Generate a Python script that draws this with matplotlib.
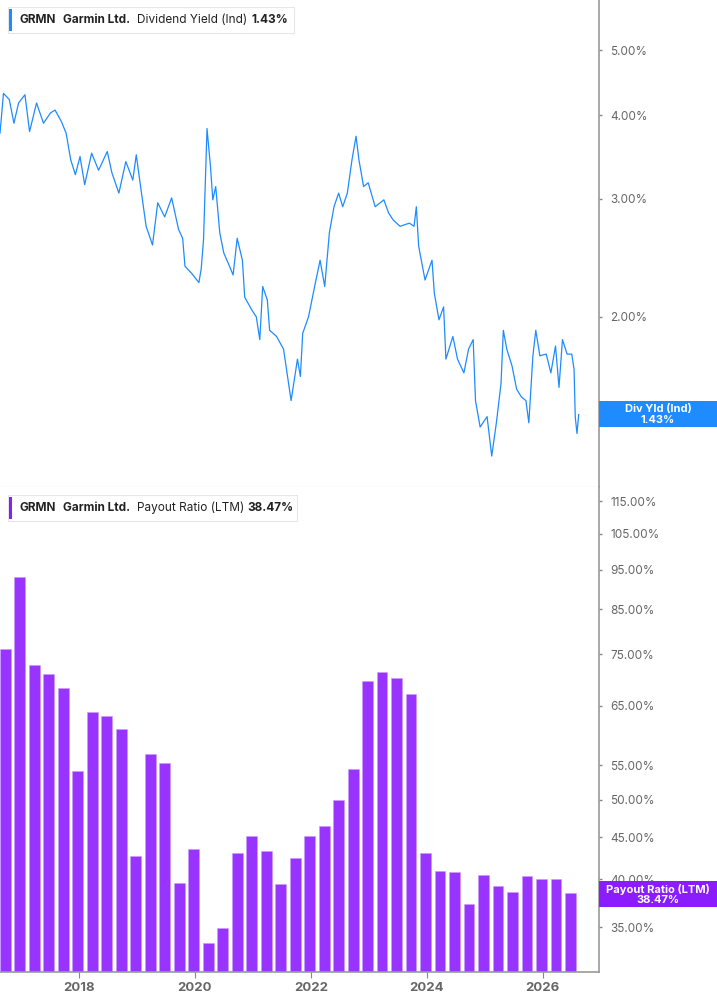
import matplotlib
matplotlib.use('Agg')
import matplotlib.pyplot as plt
from matplotlib.ticker import FixedLocator, NullLocator, FuncFormatter
from matplotlib.patches import Rectangle

plt.rcParams['font.family'] = ['Inter', 'DejaVu Sans']

# ── data ─────────────────────────────────────────────────────────────────────
yld_t = [2016.64, 2016.70, 2016.80, 2016.88, 2016.96, 2017.07, 2017.15, 2017.27, 2017.39, 2017.51,
         2017.59, 2017.70, 2017.78, 2017.86, 2017.94, 2018.02, 2018.10, 2018.22, 2018.34, 2018.49,
         2018.57, 2018.69, 2018.81, 2018.93, 2018.99, 2019.08, 2019.16, 2019.27, 2019.36, 2019.48,
         2019.60, 2019.72, 2019.79, 2019.83, 2019.95, 2020.07, 2020.11, 2020.15, 2020.21, 2020.27,
         2020.31, 2020.36, 2020.43, 2020.50, 2020.58, 2020.66, 2020.73, 2020.82, 2020.86, 2020.98,
         2021.06, 2021.12, 2021.17, 2021.25, 2021.29, 2021.41, 2021.53, 2021.66, 2021.77, 2021.82,
         2021.86, 2021.96, 2022.08, 2022.16, 2022.24, 2022.32, 2022.40, 2022.48, 2022.55, 2022.63,
         2022.71, 2022.78, 2022.83, 2022.91, 2022.99, 2023.11, 2023.26, 2023.34, 2023.42, 2023.54,
         2023.70, 2023.78, 2023.82, 2023.86, 2023.97, 2024.09, 2024.13, 2024.21, 2024.29, 2024.33,
         2024.45, 2024.53, 2024.64, 2024.72, 2024.80, 2024.84, 2024.92, 2025.04, 2025.12, 2025.20,
         2025.28, 2025.32, 2025.38, 2025.47, 2025.55, 2025.63, 2025.71, 2025.76, 2025.83, 2025.88,
         2025.95, 2026.06, 2026.14, 2026.22, 2026.28, 2026.34, 2026.42, 2026.50, 2026.54, 2026.56,
         2026.59, 2026.62]
yld_v = [3.76, 4.31, 4.22, 3.89, 4.17, 4.29, 3.78, 4.17, 3.89, 4.03,
         4.07, 3.91, 3.76, 3.43, 3.26, 3.47, 3.15, 3.51, 3.31, 3.53,
         3.28, 3.06, 3.41, 3.20, 3.49, 3.06, 2.73, 2.56, 2.96, 2.82,
         3.01, 2.70, 2.62, 2.38, 2.32, 2.25, 2.36, 2.61, 3.82, 3.35,
         2.99, 3.13, 2.67, 2.49, 2.40, 2.31, 2.62, 2.43, 2.14, 2.05,
         2.00, 1.85, 2.22, 2.12, 1.91, 1.87, 1.79, 1.50, 1.73, 1.63,
         1.89, 2.00, 2.25, 2.43, 2.22, 2.67, 2.92, 3.06, 2.92, 3.06,
         3.43, 3.72, 3.43, 3.13, 3.17, 2.92, 2.99, 2.86, 2.79, 2.73,
         2.76, 2.73, 2.92, 2.55, 2.27, 2.43, 2.17, 1.98, 2.07, 1.73,
         1.87, 1.73, 1.65, 1.79, 1.85, 1.50, 1.37, 1.42, 1.24, 1.39,
         1.59, 1.91, 1.79, 1.69, 1.56, 1.52, 1.50, 1.39, 1.75, 1.91,
         1.75, 1.76, 1.65, 1.81, 1.57, 1.85, 1.76, 1.76, 1.67, 1.42,
         1.34, 1.43]

payout_first = 2016.73   # first quarterly bar (decimal year)
payout_v = [76.1, 93.0, 72.8, 70.9, 68.2, 54.1, 63.8, 63.1, 60.8, 42.7,
            56.8, 55.4, 39.6, 43.6, 33.5, 34.9, 43.1, 45.1, 43.3, 39.5,
            42.5, 45.2, 46.4, 50.0, 54.5, 69.6, 71.3, 70.2, 67.2, 43.1,
            41.0, 40.9, 37.4, 40.5, 39.3, 38.6, 40.4, 40.0, 40.0, 38.47]
payout_t = [payout_first + 0.25 * i for i in range(len(payout_v))]

yld_ticks = [2, 3, 4, 5]
pay_ticks = [35, 40, 45, 50, 55, 65, 75, 85, 95, 105, 115]
year_ticks = [2018, 2020, 2022, 2024, 2026]

BLUE = '#1E8BFF'
PURPLE = '#9933FF'
TAG_PURPLE = '#8A1CFF'
GRAY = '#666666'

W, H = 717, 1005
fig = plt.figure(figsize=(W / 100, H / 100), dpi=100)
xr = 599 / W
ax1 = fig.add_axes([0, 1 - 487 / H, xr, 487 / H])
ax2 = fig.add_axes([0, 1 - 972 / H, xr, (972 - 487) / H])

XL = (2016.64, 2026.97)
pct = FuncFormatter(lambda v, p: f"{v:.2f}%")

for ax in (ax1, ax2):
    ax.set_xlim(*XL)
    ax.set_yscale('log')
    ax.yaxis.tick_right()
    ax.yaxis.set_minor_locator(NullLocator())
    ax.yaxis.set_major_formatter(pct)
    ax.tick_params(axis='y', length=2, width=1, colors='#888888', labelcolor=GRAY,
                   labelsize=8.5, pad=6)
    for s in ('left', 'top'):
        ax.spines[s].set_visible(False)
    ax.spines['right'].set_color('#999999')
    ax.spines['right'].set_linewidth(1.2)

# top: dividend yield
ax1.plot(yld_t, yld_v, color=BLUE, lw=0.9)
ax1.set_ylim(1.115, 5.94)
ax1.yaxis.set_major_locator(FixedLocator(yld_ticks))
ax1.set_xticks([])
ax1.spines['bottom'].set_color('#cccccc')

# bottom: payout ratio bars
ax2.bar(payout_t, payout_v, width=0.185, color=PURPLE, edgecolor='#c89bff', linewidth=0.4)
ax2.set_ylim(30.9, 119.6)
ax2.yaxis.set_major_locator(FixedLocator(pay_ticks))
ax2.set_xticks(year_ticks)
ax2.set_xticklabels([str(y) for y in year_ticks])
ax2.tick_params(axis='x', length=4, colors='#888888', labelcolor=GRAY, labelsize=9.5)
for lab in ax2.get_xticklabels():
    lab.set_fontweight('bold')
ax2.spines['bottom'].set_color('#999999')
ax2.spines['bottom'].set_linewidth(1.2)


def legend_box(color, parts, ypix, wpix):
    # header box in the top-left corner of each panel
    x0, y0 = 8 / W, 1 - ypix / H
    fig.patches.append(Rectangle((x0, y0 - 26 / H), wpix / W, 26 / H, transform=fig.transFigure,
                                 facecolor='white', edgecolor='#e6e6e6', lw=0.8, zorder=5))
    fig.patches.append(Rectangle((x0 + 1 / W, y0 - 24 / H), 3 / W, 22 / H, transform=fig.transFigure,
                                 facecolor=color, edgecolor='none', zorder=6))
    for txt, weight, x in parts:
        fig.text(x / W, y0 - 13 / H, txt, fontsize=8.5, fontweight=weight,
                 color='#222222', va='center', ha='left', zorder=7)


legend_box(BLUE, [('GRMN', 'bold', 20), ('Garmin Ltd.', 'bold', 63),
                  ('Dividend Yield (Ind)', 'normal', 137), ('1.43%', 'bold', 252)], 7, 286)
legend_box(TAG_PURPLE, [('GRMN', 'bold', 20), ('Garmin Ltd.', 'bold', 63),
                        ('Payout Ratio (LTM)', 'normal', 137), ('38.47%', 'bold', 247)], 495, 289)


def tag(ypix, color, l1, l2):
    fig.patches.append(Rectangle((xr, 1 - (ypix + 13) / H), 1 - xr, 26 / H, transform=fig.transFigure,
                                 facecolor=color, edgecolor='none', zorder=5))
    fig.text((xr + 1) / 2, 1 - (ypix - 5) / H, l1, color='white', fontsize=8, fontweight='bold',
             ha='center', va='center', zorder=6)
    fig.text((xr + 1) / 2, 1 - (ypix + 6) / H, l2, color='white', fontsize=8, fontweight='bold',
             ha='center', va='center', zorder=6)


tag(414, BLUE, 'Div Yld (Ind)', '1.43%')
tag(894, TAG_PURPLE, 'Payout Ratio (LTM)', '38.47%')

fig.savefig('out.png', dpi=100)
